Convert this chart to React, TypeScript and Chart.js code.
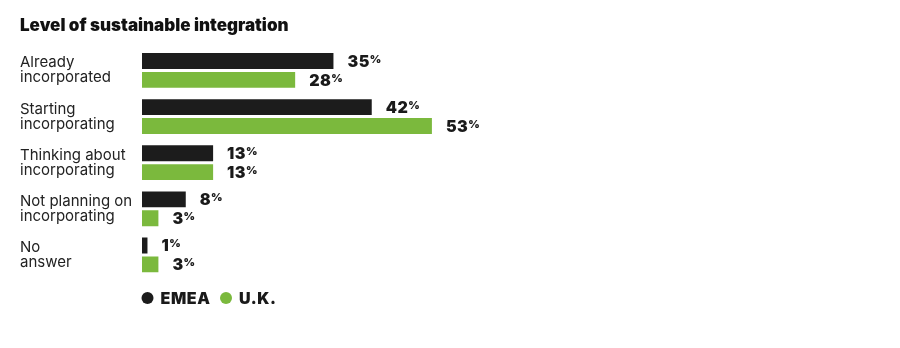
import React, { useEffect, useRef } from "react";
import { Chart, registerables } from "chart.js";

Chart.register(...registerables);

const categories: string[][] = [
  ["Already", "incorporated"],
  ["Starting", "incorporating"],
  ["Thinking about", "incorporating"],
  ["Not planning on", "incorporating"],
  ["No", "answer"],
];
const emeaValues = [35, 42, 13, 8, 1];
const ukValues = [28, 53, 13, 3, 3];
const seriesNames = ["EMEA", "U.K."];
const seriesColors = ["#1c1c1c", "#7bb93d"];
const titleText = "Level of sustainable integration";

const FONT = "Inter, 'Noto Sans', sans-serif";

const valueLabelPlugin = {
  id: "valueLabels",
  afterDatasetsDraw(chart: any) {
    const ctx = chart.ctx;
    ctx.save();
    chart.data.datasets.forEach((ds: any, di: number) => {
      const meta = chart.getDatasetMeta(di);
      meta.data.forEach((bar: any, i: number) => {
        const v = ds.data[i];
        const x = bar.x + 14;
        const y = bar.y;
        ctx.fillStyle = "#1a1a1a";
        ctx.textAlign = "left";
        ctx.textBaseline = "middle";
        ctx.font = `900 16px ${FONT}`;
        (ctx as any).letterSpacing = "0.5px";
        const s = String(v);
        ctx.fillText(s, x, y + 1);
        const w = ctx.measureText(s).width;
        ctx.font = `900 11px ${FONT}`;
        (ctx as any).letterSpacing = "0px";
        ctx.textBaseline = "top";
        ctx.fillText("%", x + w, y - 7);
      });
    });
    ctx.restore();
  },
};

const legendPlugin = {
  id: "customLegend",
  afterDraw(chart: any) {
    const ctx = chart.ctx;
    const area = chart.chartArea;
    const y = area.bottom + 20;
    let x = area.left;
    ctx.save();
    ctx.font = `900 16px ${FONT}`;
    (ctx as any).letterSpacing = "0.6px";
    ctx.textBaseline = "middle";
    ctx.textAlign = "left";
    seriesNames.forEach((name, i) => {
      ctx.fillStyle = seriesColors[i];
      ctx.beginPath();
      ctx.arc(x + 5.5, y, 6, 0, Math.PI * 2);
      ctx.fill();
      ctx.fillStyle = "#1a1a1a";
      ctx.fillText(name, x + 18.5, y + 1);
      const w = ctx.measureText(name).width;
      x = x + 18.5 + w + 10;
    });
    ctx.restore();
  },
};

export default function App() {
  const ref = useRef<HTMLCanvasElement | null>(null);
  useEffect(() => {
    if (!ref.current) return;
    const chart = new Chart(ref.current, {
      type: "bar",
      data: {
        labels: categories,
        datasets: [
          {
            label: seriesNames[0],
            data: emeaValues,
            backgroundColor: seriesColors[0],
            categoryPercentage: 0.82,
            barPercentage: 0.84,
          },
          {
            label: seriesNames[1],
            data: ukValues,
            backgroundColor: seriesColors[1],
            categoryPercentage: 0.82,
            barPercentage: 0.84,
          },
        ],
      },
      options: {
        indexAxis: "y",
        animation: false,
        responsive: false,
        maintainAspectRatio: false,
        layout: { padding: { left: 12, right: 203, top: 0, bottom: 40 } },
        plugins: {
          legend: { display: false },
          tooltip: { enabled: false },
          title: {
            display: true,
            text: titleText,
            align: "start",
            color: "#111",
            font: { family: FONT, size: 17, weight: "900", lineHeight: 1.2 },
            padding: { top: 7.5, bottom: 11.5 },
          },
        },
        scales: {
          x: { display: false, min: 0, max: 100 },
          y: {
            grid: { display: false },
            border: { display: false },
            afterFit(scale: any) {
              scale.width = 122;
            },
            ticks: {
              crossAlign: "far",
              color: "#222",
              padding: 0,
              font: { family: FONT, size: 15, weight: "400", lineHeight: 1.0 },
            },
          },
        },
      },
      plugins: [valueLabelPlugin, legendPlugin],
    });
    return () => chart.destroy();
  }, []);
  return (
    <div style={{ width: 884, height: 310 }}>
      <canvas ref={ref} width={884} height={310} style={{ display: "block" }} />
    </div>
  );
}
